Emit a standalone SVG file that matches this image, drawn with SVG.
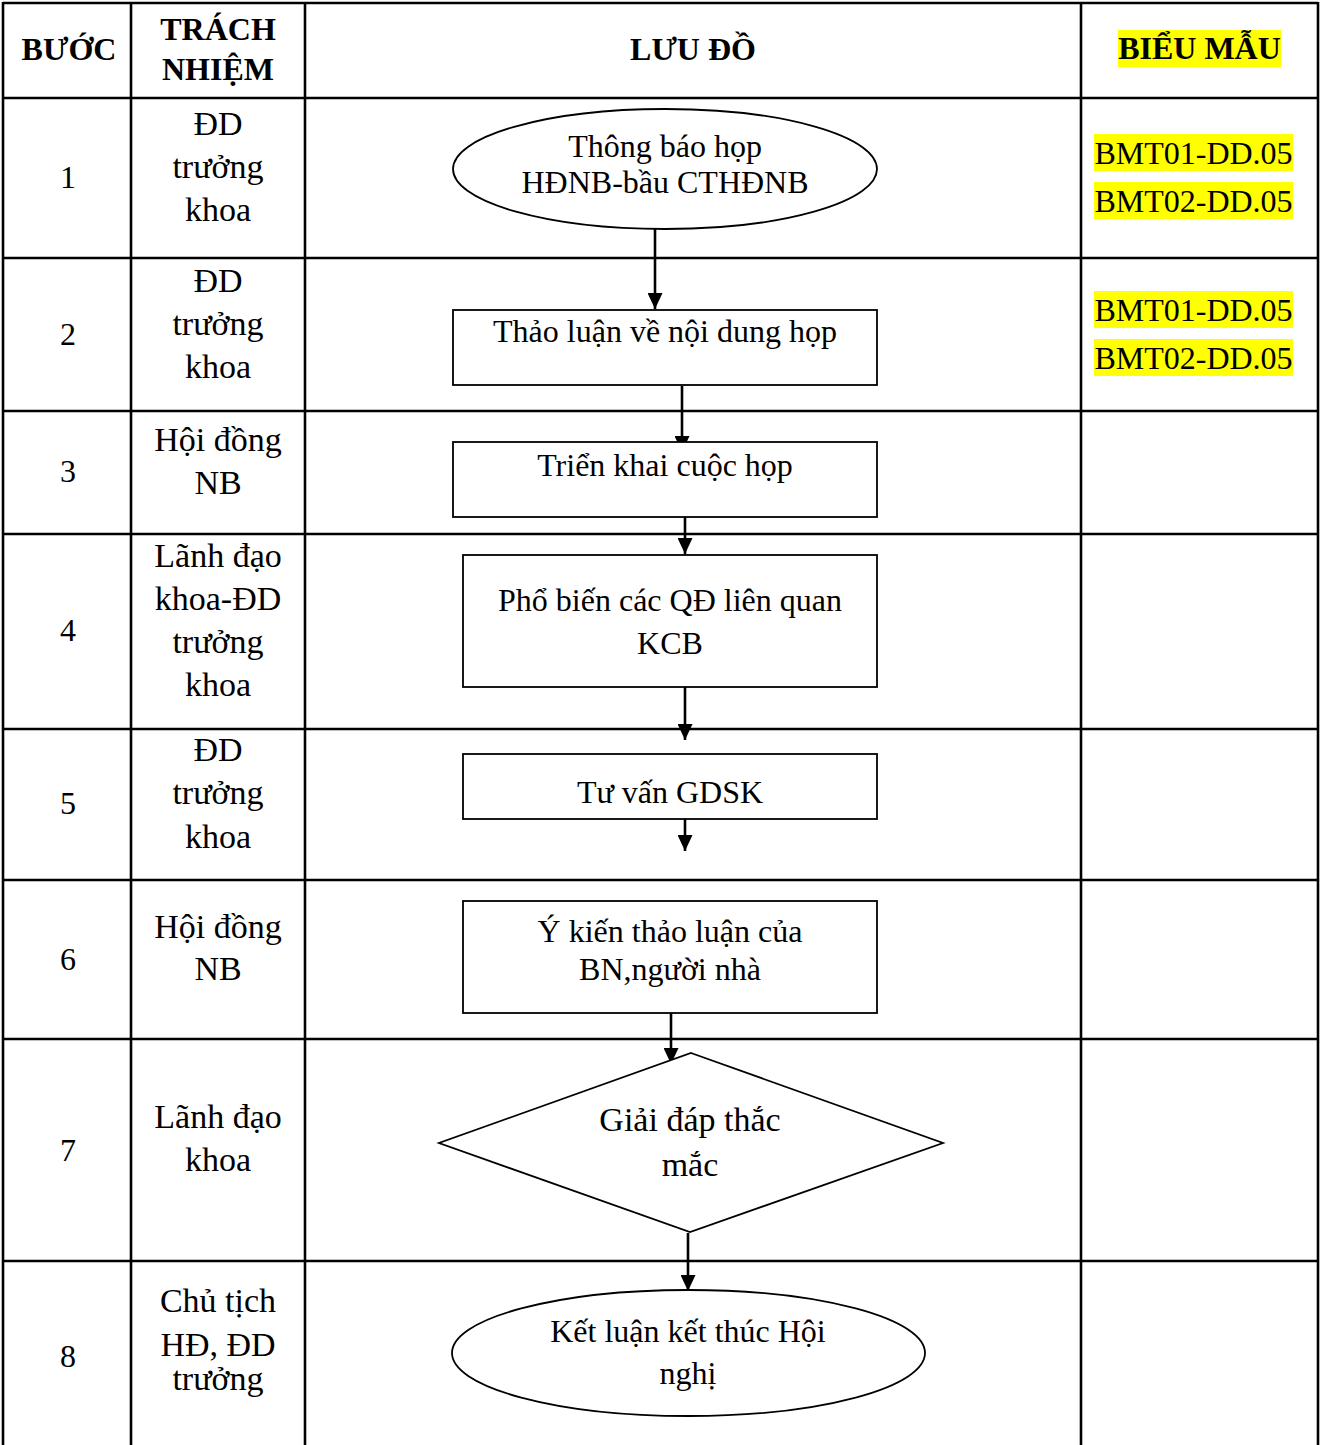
<svg xmlns="http://www.w3.org/2000/svg" width="1324" height="1445" viewBox="0 0 1324 1445">
<defs>
<style>
text{font-family:"Liberation Serif","Times New Roman",serif;fill:#000}
.t{font-size:32px;text-anchor:middle}
.r{font-size:34px;text-anchor:middle}
.h{font-size:32px;font-weight:bold;text-anchor:middle}
.d{font-size:34px;text-anchor:middle}
.grid{stroke:#000;stroke-width:2.6;fill:none}
.shape{fill:#fff;stroke:#000;stroke-width:1.8}
.conn{stroke:#000;stroke-width:2.6;fill:none;marker-end:url(#arr)}
.hl{fill:#ffff00}
</style>
<marker id="arr" viewBox="0 0 16 15" refX="16" refY="7.5" markerWidth="16" markerHeight="15" markerUnits="userSpaceOnUse" orient="auto">
<path d="M0,0 L16,7.5 L0,15 z" fill="#000"/>
</marker>
</defs>
<rect width="1324" height="1445" fill="#fff"/>
<g id="table" class="grid">
<line x1="3" y1="3" x2="1318" y2="3"/>
<line x1="3" y1="98" x2="1318" y2="98"/>
<line x1="3" y1="258" x2="1318" y2="258"/>
<line x1="3" y1="411" x2="1318" y2="411"/>
<line x1="3" y1="534" x2="1318" y2="534"/>
<line x1="3" y1="729" x2="1318" y2="729"/>
<line x1="3" y1="880" x2="1318" y2="880"/>
<line x1="3" y1="1039" x2="1318" y2="1039"/>
<line x1="3" y1="1261" x2="1318" y2="1261"/>
<line x1="3" y1="2" x2="3" y2="1445"/>
<line x1="131" y1="2" x2="131" y2="1445"/>
<line x1="305" y1="2" x2="305" y2="1445"/>
<line x1="1081" y1="2" x2="1081" y2="1445"/>
<line x1="1318" y1="2" x2="1318" y2="1445"/>
</g>
<g id="header">
<text class="h" x="69" y="60">BƯỚC</text>
<text class="h" x="218" y="40">TRÁCH</text>
<text class="h" x="218" y="80">NHIỆM</text>
<text class="h" x="693" y="60">LƯU ĐỒ</text>
<rect class="hl" x="1118" y="30" width="163" height="37"/>
<text class="h" x="1199.5" y="59">BIỂU MẪU</text>
</g>
<g id="steps">
<text class="t" x="68" y="188">1</text>
<text class="t" x="68" y="345">2</text>
<text class="t" x="68" y="482">3</text>
<text class="t" x="68" y="641">4</text>
<text class="t" x="68" y="814">5</text>
<text class="t" x="68" y="970">6</text>
<text class="t" x="68" y="1161">7</text>
<text class="t" x="68" y="1367">8</text>
</g>
<g id="responsibility">
<text class="r" x="218" y="135">ĐD</text>
<text class="r" x="218" y="178">trưởng</text>
<text class="r" x="218" y="221">khoa</text>
<text class="r" x="218" y="292">ĐD</text>
<text class="r" x="218" y="335">trưởng</text>
<text class="r" x="218" y="378">khoa</text>
<text class="r" x="218" y="451">Hội đồng</text>
<text class="r" x="218" y="494">NB</text>
<text class="r" x="218" y="567">Lãnh đạo</text>
<text class="r" x="218" y="610">khoa-ĐD</text>
<text class="r" x="218" y="653">trưởng</text>
<text class="r" x="218" y="696">khoa</text>
<text class="r" x="218" y="761">ĐD</text>
<text class="r" x="218" y="804">trưởng</text>
<text class="r" x="218" y="848">khoa</text>
<text class="r" x="218" y="938">Hội đồng</text>
<text class="r" x="218" y="980">NB</text>
<text class="r" x="218" y="1128">Lãnh đạo</text>
<text class="r" x="218" y="1171">khoa</text>
<text class="r" x="218" y="1312">Chủ tịch</text>
<text class="r" x="218" y="1356">HĐ, ĐD</text>
<text class="r" x="218" y="1390">trưởng</text>
</g>
<g id="forms">
<rect class="hl" x="1094" y="134" width="199" height="37"/>
<rect class="hl" x="1094" y="182" width="199" height="37"/>
<text class="t" x="1193.5" y="164">BMT01-DD.05</text>
<text class="t" x="1193.5" y="212">BMT02-DD.05</text>
<rect class="hl" x="1094" y="291" width="199" height="37"/>
<rect class="hl" x="1094" y="339" width="199" height="37"/>
<text class="t" x="1193.5" y="321">BMT01-DD.05</text>
<text class="t" x="1193.5" y="369">BMT02-DD.05</text>
</g>
<g id="connectors">
<line class="conn" x1="655" y1="229" x2="655" y2="309"/>
<line class="conn" x1="682" y1="386" x2="682" y2="452"/>
<line class="conn" x1="685" y1="517" x2="685" y2="554"/>
<line class="conn" x1="685" y1="687" x2="685" y2="740"/>
<line class="conn" x1="685" y1="819" x2="685" y2="851"/>
<line class="conn" x1="671" y1="1013" x2="671" y2="1064"/>
<line class="conn" x1="688" y1="1233" x2="688" y2="1291"/>
</g>
<g id="n1">
<ellipse class="shape" cx="665" cy="169" rx="212" ry="60"/>
<text class="t" x="665" y="157">Thông báo họp</text>
<text class="t" x="665" y="193">HĐNB-bầu CTHĐNB</text>
</g>
<g id="n2">
<rect class="shape" x="453" y="310" width="424" height="75"/>
<text class="t" x="665" y="342">Thảo luận về nội dung họp</text>
</g>
<g id="n3">
<rect class="shape" x="453" y="442" width="424" height="75"/>
<text class="t" x="665" y="476">Triển khai cuộc họp</text>
</g>
<g id="n4">
<rect class="shape" x="463" y="555" width="414" height="132"/>
<text class="t" x="670" y="611">Phổ biến các QĐ liên quan</text>
<text class="t" x="670" y="654">KCB</text>
</g>
<g id="n5">
<rect class="shape" x="463" y="754" width="414" height="65"/>
<text class="t" x="670" y="803">Tư vấn GDSK</text>
</g>
<g id="n6">
<rect class="shape" x="463" y="901" width="414" height="112"/>
<text class="t" x="670" y="942">Ý kiến thảo luận của</text>
<text class="t" x="670" y="980">BN,người nhà</text>
</g>
<g id="n7">
<polygon class="shape" points="691,1053 943,1143 690,1232 439,1143"/>
<text class="d" x="690" y="1131">Giải đáp thắc</text>
<text class="d" x="690" y="1176">mắc</text>
</g>
<g id="n8">
<ellipse class="shape" cx="688.5" cy="1353" rx="236.5" ry="63"/>
<text class="t" x="688" y="1342">Kết luận kết thúc Hội</text>
<text class="t" x="688" y="1384">nghị</text>
</g>
</svg>
